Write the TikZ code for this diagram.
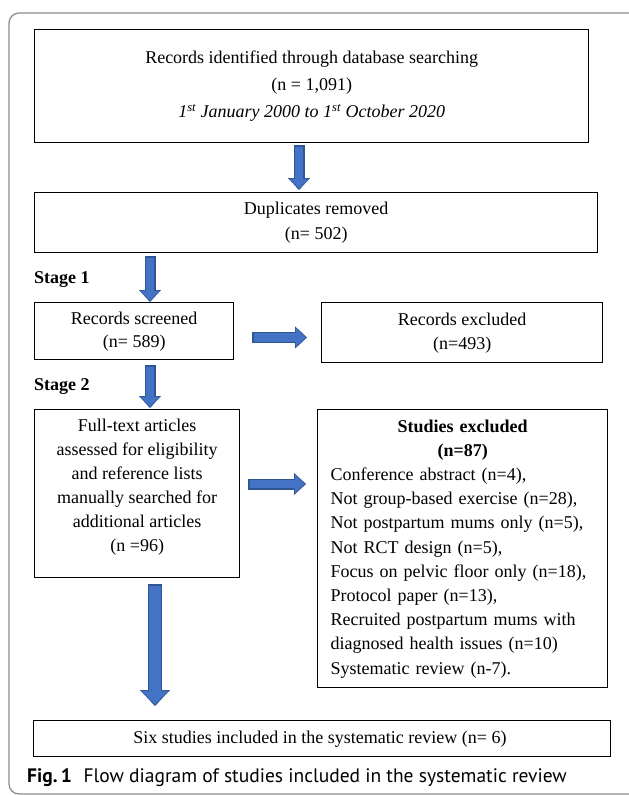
\documentclass[tikz,border=0pt]{standalone}
\usepackage{fontspec}
\setmainfont{Liberation Serif}
\newfontfamily\capfont{PT Sans}
\usetikzlibrary{arrows.meta}
\definecolor{arrowfill}{HTML}{4472C4}
\definecolor{arrowedge}{HTML}{2F5597}
\definecolor{framegray}{HTML}{8A8A8A}

\begin{document}
\begin{tikzpicture}[
    x=1pt, y=-1pt,
    box/.style={
        draw=black, line width=1.4pt,
        anchor=north west, inner sep=0pt,
        align=center, font=\fontsize{18}{24}\selectfont
    },
    stage/.style={anchor=west, inner sep=0pt, font=\fontsize{18}{22}\selectfont\bfseries},
    arrowout/.style={draw=arrowedge, line width=11pt,
        -{Triangle[width=22pt,length=12pt,line width=0.4pt 0]}},
    arrowin/.style={draw=arrowfill, line width=8.6pt,
        -{Triangle[width=18.4pt,length=9.8pt,line width=0.4pt 0]},
        shorten <=1.2pt, shorten >=1.4pt},
    wideout/.style={draw=arrowedge, line width=14.5pt,
        -{Triangle[width=30pt,length=16pt,line width=0.4pt 0]}},
    widein/.style={draw=arrowfill, line width=12pt,
        -{Triangle[width=26pt,length=13.6pt,line width=0.4pt 0]},
        shorten <=1.2pt, shorten >=1.5pt}
]
\useasboundingbox (0,0) rectangle (629,795);

% outer frame of the figure
\draw[framegray, line width=1.2pt, rounded corners=10pt] (9,13) rectangle (640,794);

% columns used by the vertical arrows
\coordinate (colA) at (299,0);
\coordinate (colB) at (150,0);
\coordinate (colC) at (155,0);
\coordinate (rowA) at (0,337.5);
\coordinate (rowB) at (0,484);

% boxes
\node[box, minimum width=554pt, minimum height=113pt, font=\fontsize{18}{27}\selectfont] (ident) at (34,29) {
    Records identified through database searching\\
    (n = 1,091)\\
    \textit{1\textsuperscript{st} January 2000 to 1\textsuperscript{st} October 2020}
};
\node[box, minimum width=563pt, minimum height=60pt, font=\fontsize{18}{25}\selectfont] (dupl) at (34,192) {
    Duplicates removed\\
    (n= 502)
};
\node[stage] (stage1) at (34,280) {Stage 1};
\node[box, minimum width=199pt, minimum height=57pt, font=\fontsize{18}{23}\selectfont] (screen) at (34,302) {
    Records screened\\
    (n= 589)
};
\node[box, minimum width=281pt, minimum height=60pt] (recexcl) at (321,302) {
    Records excluded\\
    (n=493)
};
\node[stage] (stage2) at (34,387) {Stage 2};
\node[box, minimum width=205pt, minimum height=168pt] (full) at (34,409) {
    Full-text articles\\
    assessed for eligibility\\
    and reference lists\\
    manually searched for\\
    additional articles\\
    (n =96)\\[-8pt]
};
\node[box, minimum width=290pt, minimum height=278pt, text width=264pt, align=left, font=\fontsize{18}{24.2}\selectfont] (studexcl) at (317,409) {
    \hfill\textbf{Studies excluded}\hfill\null\\
    \hfill\textbf{(n=87)}\hfill\null\\
    Conference abstract (n=4),\\
    Not group-based exercise (n=28),\\
    Not postpartum mums only (n=5),\\
    Not RCT design (n=5),\\
    Focus on pelvic floor only (n=18),\\
    Protocol paper (n=13),\\
    Recruited postpartum mums with\\
    diagnosed health issues (n=10)\\
    Systematic review (n-7).
};
\node[box, minimum width=577pt, minimum height=36pt] (incl) at (33,720) {
    Six studies included in the systematic review (n= 6)
};

% caption
\node[anchor=west, inner sep=0pt, font=\capfont\fontsize{19.5}{23}\selectfont] (cap) at (27,778) {
    \textbf{Fig.\,1}\hspace{0.6em}Flow diagram of studies included in the systematic review
};

% block arrows
\draw[arrowout] ([yshift=-2pt]ident.south -| colA) -- ([yshift=2pt]dupl.north -| colA);
\draw[arrowin]  ([yshift=-2pt]ident.south -| colA) -- ([yshift=2pt]dupl.north -| colA);
\draw[arrowout] ([yshift=-3pt]dupl.south -| colB) -- (screen.north -| colB);
\draw[arrowin]  ([yshift=-3pt]dupl.south -| colB) -- (screen.north -| colB);
\draw[arrowout] ([yshift=-5pt]screen.south -| colB) -- ([yshift=1pt]full.north -| colB);
\draw[arrowin]  ([yshift=-5pt]screen.south -| colB) -- ([yshift=1pt]full.north -| colB);
\draw[arrowout] ([xshift=18pt]screen.east |- rowA) -- ([xshift=-14pt]recexcl.west |- rowA);
\draw[arrowin]  ([xshift=18pt]screen.east |- rowA) -- ([xshift=-14pt]recexcl.west |- rowA);
\draw[arrowout] ([xshift=8pt]full.east |- rowB) -- ([xshift=-11pt]studexcl.west |- rowB);
\draw[arrowin]  ([xshift=8pt]full.east |- rowB) -- ([xshift=-11pt]studexcl.west |- rowB);
\draw[wideout]  ([yshift=-6pt]full.south -| colC) -- ([yshift=14pt]incl.north -| colC);
\draw[widein]   ([yshift=-6pt]full.south -| colC) -- ([yshift=14pt]incl.north -| colC);

\end{tikzpicture}
\end{document}
